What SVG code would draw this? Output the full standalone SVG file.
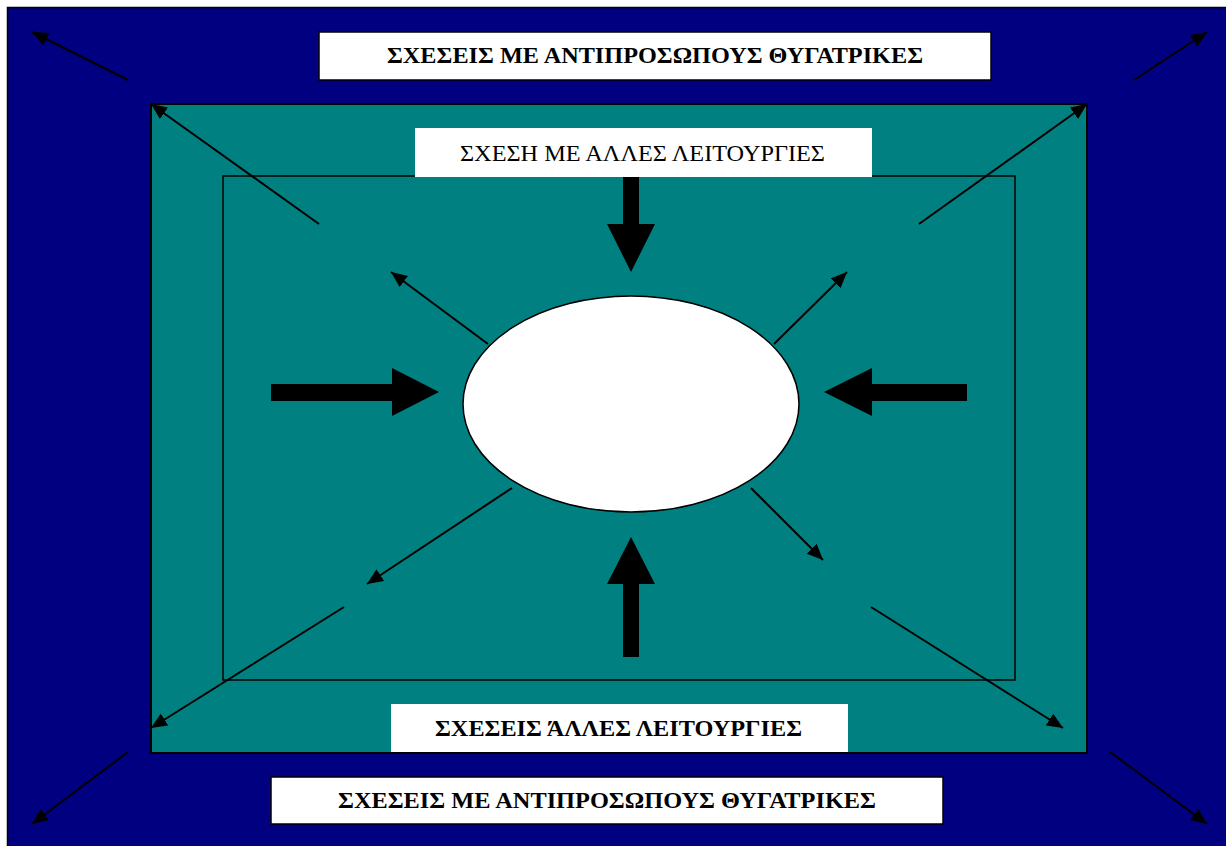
<svg xmlns="http://www.w3.org/2000/svg" width="1226" height="846" viewBox="0 0 1226 846">
  <defs>
    <marker id="tip" markerUnits="userSpaceOnUse" markerWidth="17" markerHeight="15" refX="16" refY="7" orient="auto">
      <path d="M0,0 L16,7 L0,14 z" fill="#000"/>
    </marker>
    <style>
      .lbl { fill: #fff; stroke: #000; stroke-width: 1.5; }
      .lblplain { fill: #fff; }
      .t { font-family: "Liberation Serif", "Times New Roman", serif; fill: #000; text-anchor: middle; }
      .b { font-weight: bold; font-size: 23px; }
      .n { font-size: 24px; }
      .thin { stroke: #000; stroke-width: 2; fill: none; marker-end: url(#tip); }
      .block { fill: #000; }
    </style>
  </defs>

  <rect width="1226" height="846" fill="#fff"/>

  <!-- outer field -->
  <g id="outer">
    <rect x="7.5" y="7.5" width="1240" height="860" fill="#000080" stroke="#000" stroke-width="1.5"/>
  </g>

  <!-- teal field -->
  <g id="middle">
    <rect x="151" y="104" width="936" height="649" fill="#008080" stroke="#000" stroke-width="2"/>
  </g>

  <!-- inner frame -->
  <g id="inner">
    <rect x="223" y="176" width="792" height="504" fill="none" stroke="#000" stroke-width="1.5"/>
  </g>

  <g id="label-top-outer">
    <rect class="lbl" x="319" y="32" width="672" height="48"/>
    <text class="t b" x="655" y="63" textLength="536" lengthAdjust="spacingAndGlyphs">ΣΧΕΣΕΙΣ ΜΕ ΑΝΤΙΠΡΟΣΩΠΟΥΣ ΘΥΓΑΤΡΙΚΕΣ</text>
  </g>

  <g id="label-top-inner">
    <rect class="lblplain" x="415" y="128" width="457" height="49"/>
    <text class="t n" x="642.5" y="161" textLength="365" lengthAdjust="spacingAndGlyphs">ΣΧΕΣΗ ΜΕ ΑΛΛΕΣ ΛΕΙΤΟΥΡΓΙΕΣ</text>
  </g>

  <g id="label-bottom-inner">
    <rect class="lblplain" x="391" y="704" width="457" height="48"/>
    <text class="t b" x="618.5" y="736" textLength="367" lengthAdjust="spacingAndGlyphs">ΣΧΕΣΕΙΣ ΆΛΛΕΣ ΛΕΙΤΟΥΡΓΙΕΣ</text>
  </g>

  <g id="label-bottom-outer">
    <rect class="lbl" x="271" y="777" width="672" height="47"/>
    <text class="t b" x="607" y="808" textLength="538" lengthAdjust="spacingAndGlyphs">ΣΧΕΣΕΙΣ ΜΕ ΑΝΤΙΠΡΟΣΩΠΟΥΣ ΘΥΓΑΤΡΙΚΕΣ</text>
  </g>

  <g id="center">
    <ellipse cx="631" cy="404" rx="168" ry="108" fill="#fff" stroke="#000" stroke-width="1.5"/>
  </g>

  <g id="connectors">
    <!-- block arrows pointing at the centre -->
    <polygon class="block" points="623,177 639,177 639,224 655,224 631,272 607,224 623,224"/>
    <polygon class="block" points="623,657 639,657 639,584 655,584 631,537 607,584 623,584"/>
    <polygon class="block" points="271,384 392,384 392,368 439,392 392,416 392,401 271,401"/>
    <polygon class="block" points="967,384 872,384 872,368 824,392 872,416 872,401 967,401"/>

    <!-- arrows from the centre -->
    <line class="thin" x1="488" y1="344" x2="391" y2="272"/>
    <line class="thin" x1="774" y1="344" x2="847" y2="272"/>
    <line class="thin" x1="512" y1="488" x2="367" y2="584"/>
    <line class="thin" x1="751" y1="488" x2="823" y2="560"/>

    <!-- arrows to the teal corners -->
    <line class="thin" x1="319" y1="224" x2="151" y2="104"/>
    <line class="thin" x1="919" y1="224" x2="1087" y2="104"/>
    <line class="thin" x1="344" y1="607" x2="151" y2="728"/>
    <line class="thin" x1="871" y1="607" x2="1063" y2="728"/>

    <!-- arrows to the outer corners -->
    <line class="thin" x1="128" y1="80" x2="32" y2="32"/>
    <line class="thin" x1="1134" y1="80" x2="1207" y2="32"/>
    <line class="thin" x1="128" y1="752" x2="32" y2="824"/>
    <line class="thin" x1="1110" y1="752" x2="1207" y2="824"/>
  </g>
</svg>
